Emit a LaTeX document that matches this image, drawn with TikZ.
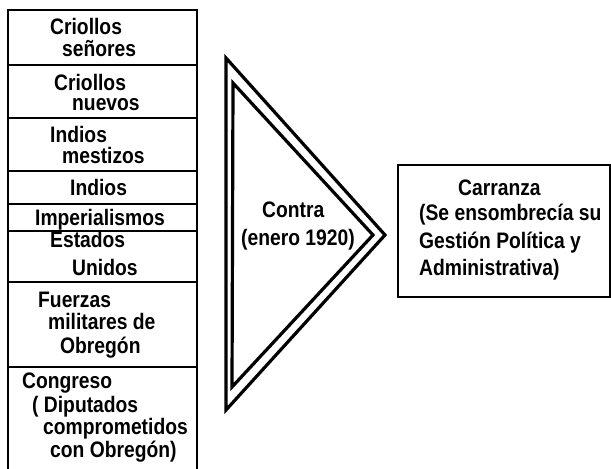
\documentclass[tikz,border=0pt]{standalone}
\usepackage{fontspec}
\newfontfamily\lab{Liberation Sans}[FakeStretch=0.86]
\begin{document}
\begin{tikzpicture}[x=1bp,y=-1bp,
  boxline/.style={draw=black,line width=1.7bp},
  triline/.style={draw=black,line width=3.2bp,line join=miter},
  txt/.style={anchor=base west,inner sep=0pt,font=\lab\bfseries\fontsize{22.5}{22.5}\selectfont}]
\useasboundingbox (0,0) rectangle (611,469);
% left column boxes
\draw[boxline] (8,10) rectangle (197,65);
\draw[boxline] (8,65) rectangle (197,118);
\draw[boxline] (8,118) rectangle (197,171);
\draw[boxline] (8,171) rectangle (197,204);
\draw[boxline] (8,204) rectangle (197,231);
\draw[boxline] (8,231) rectangle (197,282);
\draw[boxline] (8,282) rectangle (197,367);
\draw[boxline] (8,474) -- (8,367) -- (197,367) -- (197,474);
% left texts
\node[txt] (t1a) at (50,35) {Criollos};
\node[txt] (t1b) at (62,57) {señores};
\node[txt] (t2a) at (54,91) {Criollos};
\node[txt] (t2b) at (72,111) {nuevos};
\node[txt] (t3a) at (50,143) {Indios};
\node[txt] (t3b) at (62,164) {mestizos};
\node[txt] (t4) at (70,196) {Indios};
\node[txt] (t5) at (35,226) {Imperialismos};
\node[txt] (t6a) at (50,248) {Estados};
\node[txt] (t6b) at (72,276) {Unidos};
\node[txt] (t7a) at (38,307) {Fuerzas};
\node[txt] (t7b) at (48,329) {militares de};
\node[txt] (t7c) at (60,353) {Obregón};
\node[txt] (t8a) at (22,388) {Congreso};
\node[txt] (t8b) at (32,412) {( Diputados};
\node[txt] (t8c) at (43,434) {comprometidos};
\node[txt] (t8d) at (50,457) {con Obregón)};
% triangle
\coordinate (o1) at (226,58);
\coordinate (o2) at (385,235);
\coordinate (o3) at (226,410);
\coordinate (i1) at (233,83);
\coordinate (i2) at (373,235);
\coordinate (i3) at (232,387);
\draw[triline] (o1) -- (o2) -- (o3) -- cycle;
\draw[triline] (i1) -- (i2) -- (i3) -- cycle;
\node[txt] (c1) at (262,218) {Contra};
\node[txt] (c2) at (241,246) {(enero 1920)};
% right box
\draw[boxline] (398,165) rectangle (610,297);
\node[txt] (r1) at (458,196) {Carranza};
\node[txt] (r2) at (419,221) {(Se ensombrecía su};
\node[txt] (r3) at (419,249) {Gestión Política y};
\node[txt] (r4) at (419,276) {Administrativa)};
\end{tikzpicture}
\end{document}
